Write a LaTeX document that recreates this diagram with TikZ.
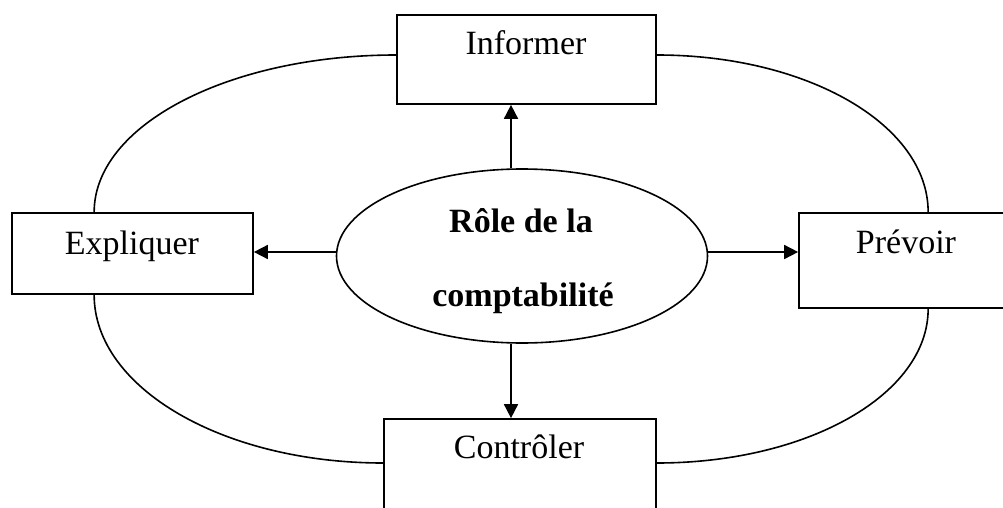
\documentclass[tikz,border=0pt]{standalone}
\usepackage{fontspec}
\setmainfont{Liberation Serif}
\usetikzlibrary{arrows.meta,shapes.geometric}
\begin{document}
\begin{tikzpicture}[x=1pt,y=-1pt,
  line width=1.6pt,
  rolebox/.style={draw, rectangle, inner sep=0pt, line width=1.7pt},
  lbl/.style={anchor=base, inner sep=0pt, font=\fontsize{34}{40}\selectfont},
  titre/.style={anchor=base, inner sep=0pt, font=\fontsize{34}{40}\selectfont\bfseries},
  flow/.style={-{Triangle[length=14pt,width=14pt]}, line width=1.7pt},
  ring/.style={line width=1.6pt}]
  \clip (0,0) rectangle (1003,508);

  % central ellipse
  \node[draw, ellipse, minimum width=371pt, minimum height=174pt, inner sep=0pt, line width=1.6pt] (ell) at (522,256) {};
  \node[titre] (t1) at (521,232) {Rôle de la};
  \node[titre] (t2) at (523,306) {comptabilité};

  % the four role boxes
  \node[rolebox, minimum width=259pt, minimum height=89pt] (inf) at (526.5,59.5) {};
  \node[rolebox, minimum width=241pt, minimum height=81pt] (exp) at (132.5,253.5) {};
  \node[rolebox, minimum width=214pt, minimum height=95pt] (pre) at (906,260.5) {};
  \node[rolebox, minimum width=272pt, minimum height=95pt] (con) at (520,466.5) {};

  \node[lbl] at (526,55) {Informer};
  \node[lbl] at (132,254) {Expliquer};
  \node[lbl] at (906,253) {Prévoir};
  \node[lbl] at (519,458) {Contrôler};

  % arrows from the centre to each role
  \coordinate (ax) at (511,0);
  \draw[flow] (ax |- ell.north) -- (ax |- inf.south);
  \draw[flow] (ax |- ell.south) -- (ax |- con.north);
  \draw[flow] ([yshift=4pt]ell.west) -- ([yshift=4pt]ell.west -| exp.east);
  \draw[flow] ([yshift=4pt]ell.east) -- ([yshift=4pt]ell.east -| pre.west);

  % outer ring joining the boxes
  \draw[ring] ([xshift=83pt]exp.north west) .. controls +(0,-87.3) and +(-166.8,0) .. ([yshift=4.5pt]inf.west);
  \draw[ring] ([yshift=4.5pt]inf.east) .. controls +(150.8,0) and +(0,-87.3) .. ([xshift=130pt]pre.north west);
  \draw[ring] ([xshift=83pt]exp.south west) .. controls +(0,93.3) and +(-159.6,0) .. ([yshift=3.5pt]con.west);
  \draw[ring] ([xshift=130pt]pre.south west) .. controls +(0,85.6) and +(150.8,0) .. ([yshift=3.5pt]con.east);
\end{tikzpicture}
\end{document}
